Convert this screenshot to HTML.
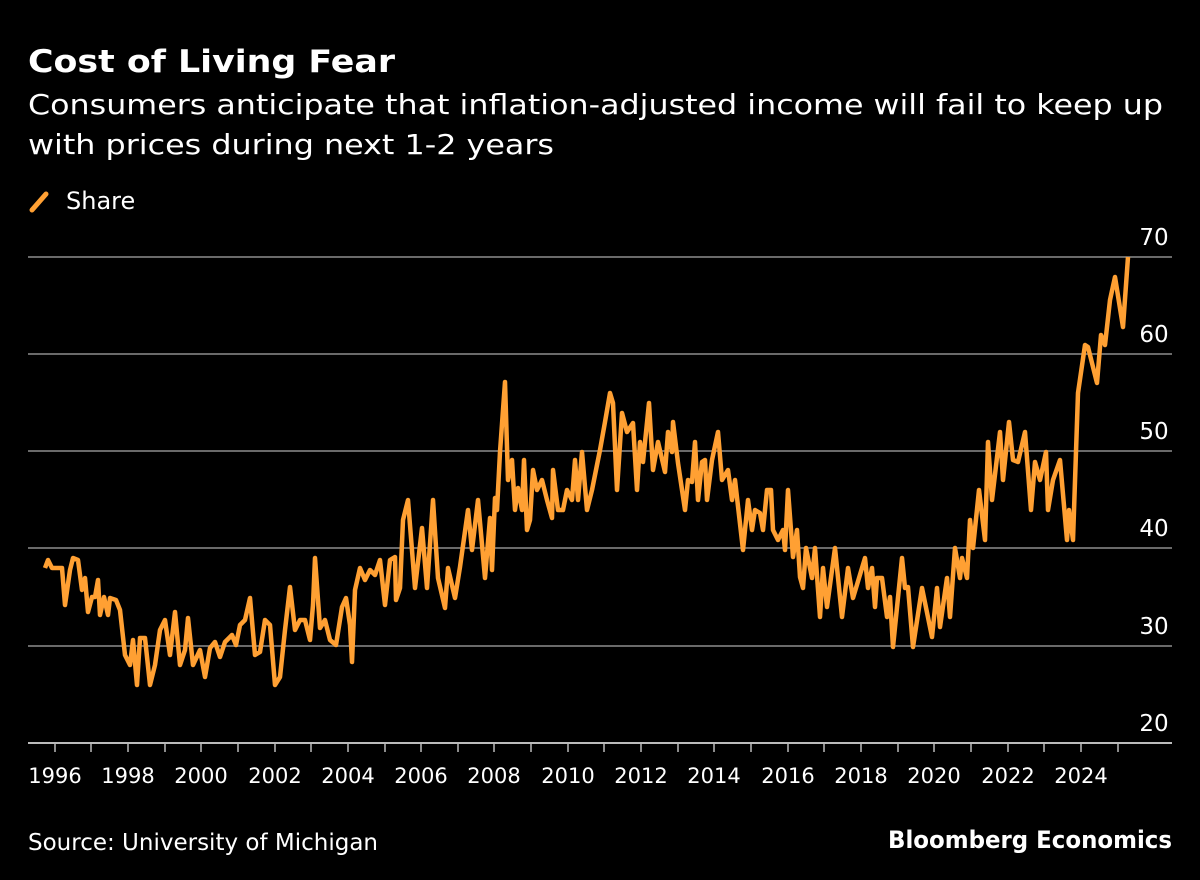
<!DOCTYPE html>
<html><head><style>
body{margin:0;background:#000;width:1200px;height:880px;overflow:hidden;font-family:"Liberation Sans",sans-serif;color:#fff}
</style></head><body>
<svg width="1200" height="880" xmlns="http://www.w3.org/2000/svg" style="position:absolute;left:0;top:0">
<rect width="1200" height="880" fill="#000"/>
<text x="28" y="72" font-size="31" font-weight="bold" fill="#fff" font-family="DejaVu Sans, sans-serif" textLength="367" lengthAdjust="spacingAndGlyphs">Cost of Living Fear</text>
<text x="28" y="114" font-size="28" fill="#fff" font-family="DejaVu Sans, sans-serif" textLength="1135" lengthAdjust="spacingAndGlyphs">Consumers anticipate that inflation-adjusted income will fail to keep up</text>
<text x="28" y="154" font-size="28" fill="#fff" font-family="DejaVu Sans, sans-serif" textLength="526" lengthAdjust="spacingAndGlyphs">with prices during next 1-2 years</text>
<line x1="32" y1="210" x2="46" y2="194" stroke="#ffa033" stroke-width="5" stroke-linecap="round"/>
<text x="66" y="209" font-size="24" fill="#fff" font-family="DejaVu Sans, sans-serif">Share</text>
<g stroke="#6a6a6a" stroke-width="2">
<line x1="28" y1="257" x2="1172" y2="257"/><line x1="28" y1="354" x2="1172" y2="354"/><line x1="28" y1="451" x2="1172" y2="451"/><line x1="28" y1="548" x2="1172" y2="548"/><line x1="28" y1="646" x2="1172" y2="646"/>
</g>
<line x1="28" y1="743" x2="1172" y2="743" stroke="#bbb" stroke-width="2"/>
<g font-size="23" fill="#fff" font-family="DejaVu Sans, sans-serif" text-anchor="middle">
<text x="1154" y="245">70</text><text x="1154" y="342">60</text><text x="1154" y="439">50</text><text x="1154" y="536">40</text><text x="1154" y="634">30</text><text x="1154" y="731">20</text>
</g>
<g font-size="21" fill="#fff" font-family="DejaVu Sans, sans-serif" text-anchor="middle">
<text x="55" y="783">1996</text><text x="128" y="783">1998</text><text x="201" y="783">2000</text><text x="275" y="783">2002</text><text x="348" y="783">2004</text><text x="421" y="783">2006</text><text x="494" y="783">2008</text><text x="568" y="783">2010</text><text x="641" y="783">2012</text><text x="714" y="783">2014</text><text x="788" y="783">2016</text><text x="861" y="783">2018</text><text x="934" y="783">2020</text><text x="1008" y="783">2022</text><text x="1081" y="783">2024</text>
</g>
<g stroke="#bbb" stroke-width="1.5">
<line x1="55" y1="743" x2="55" y2="752"/><line x1="91" y1="743" x2="91" y2="752"/><line x1="128" y1="743" x2="128" y2="752"/><line x1="165" y1="743" x2="165" y2="752"/><line x1="201" y1="743" x2="201" y2="752"/><line x1="238" y1="743" x2="238" y2="752"/><line x1="275" y1="743" x2="275" y2="752"/><line x1="311" y1="743" x2="311" y2="752"/><line x1="348" y1="743" x2="348" y2="752"/><line x1="385" y1="743" x2="385" y2="752"/><line x1="421" y1="743" x2="421" y2="752"/><line x1="458" y1="743" x2="458" y2="752"/><line x1="494" y1="743" x2="494" y2="752"/><line x1="531" y1="743" x2="531" y2="752"/><line x1="568" y1="743" x2="568" y2="752"/><line x1="604" y1="743" x2="604" y2="752"/><line x1="641" y1="743" x2="641" y2="752"/><line x1="678" y1="743" x2="678" y2="752"/><line x1="714" y1="743" x2="714" y2="752"/><line x1="751" y1="743" x2="751" y2="752"/><line x1="788" y1="743" x2="788" y2="752"/><line x1="824" y1="743" x2="824" y2="752"/><line x1="861" y1="743" x2="861" y2="752"/><line x1="898" y1="743" x2="898" y2="752"/><line x1="934" y1="743" x2="934" y2="752"/><line x1="971" y1="743" x2="971" y2="752"/><line x1="1008" y1="743" x2="1008" y2="752"/><line x1="1044" y1="743" x2="1044" y2="752"/><line x1="1081" y1="743" x2="1081" y2="752"/><line x1="1118" y1="743" x2="1118" y2="752"/>
</g>
<polyline fill="none" stroke="#ffa033" stroke-width="4.5" stroke-linejoin="round" points="45,568 48,560 52,568 62,568 65,605 70,570 73,558 78,560 82,590 85,578 88,612 92,597 95,597 98,580 100,615 104,597 108,615 110,598 116,600 120,610 125,655 130,665 133,640 137,685 140,638 145,638 150,685 155,665 160,630 165,620 170,655 175,612 180,665 185,650 188,618 193,665 200,650 205,677 210,648 215,642 220,657 225,642 232,635 236,645 240,625 245,620 250,598 255,655 260,652 265,620 270,625 275,685 280,677 285,630 290,587 295,630 300,620 305,620 310,640 313,605 315,558 320,628 325,620 330,640 336,645 342,607 346,598 350,625 352,662 355,590 360,568 365,580 370,570 375,575 380,560 385,605 390,560 395,557 396,600 400,588 403,520 408,500 415,588 422,528 427,588 433,500 438,578 445,608 448,568 455,598 460,567 468,510 472,550 478,500 485,578 490,518 492,570 495,498 497,510 500,452 505,382 508,480 512,460 515,510 518,488 522,510 524,460 527,530 530,520 533,470 537,490 542,480 547,500 552,518 553,470 558,510 563,510 567,490 572,500 575,460 578,500 582,452 587,510 592,490 600,450 605,422 610,393 613,403 617,490 622,413 627,432 633,423 637,490 640,442 643,462 649,403 653,470 658,442 665,472 668,432 672,452 673,422 678,463 685,510 688,480 692,482 695,442 698,500 702,462 705,460 707,500 712,460 718,432 722,480 728,470 732,500 735,480 743,550 748,500 752,530 755,510 760,513 763,530 767,490 771,490 773,530 778,540 783,530 785,550 788,490 793,557 797,530 800,577 803,588 806,548 812,578 815,548 820,617 823,568 827,607 835,548 842,617 848,568 853,598 865,558 868,588 872,568 875,607 877,578 882,578 887,617 890,597 893,647 902,558 905,588 908,587 913,647 922,588 932,637 937,588 940,627 947,578 950,617 955,548 960,578 962,558 967,578 970,520 973,548 979,490 985,540 988,442 992,500 1000,432 1003,480 1009,422 1013,460 1018,462 1025,432 1031,510 1035,462 1040,480 1046,452 1048,510 1053,480 1060,460 1067,540 1069,510 1073,540 1078,393 1085,345 1088,347 1097,383 1101,335 1105,345 1110,300 1115,277 1123,327 1128,257"/>
<text x="28" y="850" font-size="23" fill="#fff" font-family="DejaVu Sans, sans-serif">Source: University of Michigan</text>
<text x="1172" y="848" font-size="24" font-weight="bold" fill="#fff" text-anchor="end" font-family="DejaVu Sans, sans-serif" textLength="284" lengthAdjust="spacingAndGlyphs">Bloomberg Economics</text>
</svg>
</body></html>
